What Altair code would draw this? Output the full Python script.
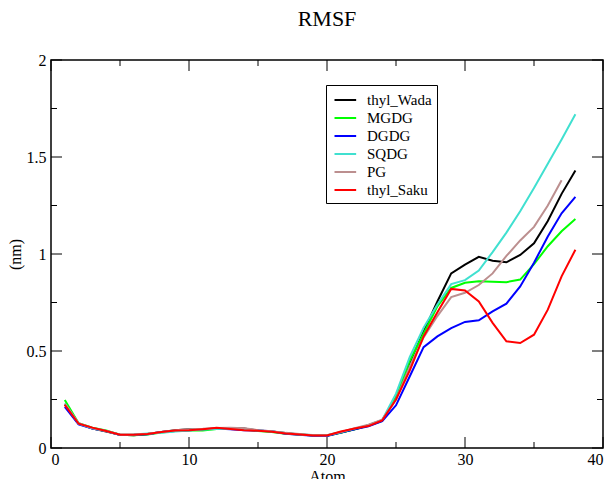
import altair as alt
import pandas as pd

atoms = list(range(1, 39))
series_names = ["thyl_Wada", "MGDG", "DGDG", "SQDG", "PG", "thyl_Saku"]
series_colors = ["#000000", "#00ff00", "#0000ff", "#40e0d0", "#bc8f8f", "#ff0000"]

thyl_wada = [0.225, 0.125, 0.100, 0.085, 0.068, 0.066, 0.072, 0.083, 0.092, 0.097,
             0.095, 0.100, 0.103, 0.100, 0.090, 0.085, 0.077, 0.070, 0.066, 0.065,
             0.080, 0.097, 0.117, 0.143, 0.260, 0.440, 0.600, 0.755, 0.900, 0.945,
             0.985, 0.965, 0.957, 0.995, 1.055, 1.170, 1.310, 1.430]
mgdg = [0.248, 0.128, 0.105, 0.090, 0.068, 0.066, 0.070, 0.080, 0.088, 0.092,
        0.090, 0.098, 0.100, 0.095, 0.088, 0.083, 0.074, 0.069, 0.064, 0.063,
        0.078, 0.096, 0.115, 0.140, 0.260, 0.450, 0.590, 0.730, 0.825, 0.852,
        0.860, 0.857, 0.855, 0.868, 0.948, 1.040, 1.117, 1.180]
dgdg = [0.212, 0.122, 0.100, 0.087, 0.067, 0.068, 0.071, 0.082, 0.088, 0.092,
        0.096, 0.100, 0.097, 0.092, 0.090, 0.086, 0.074, 0.068, 0.063, 0.062,
        0.080, 0.097, 0.112, 0.138, 0.220, 0.370, 0.520, 0.575, 0.618, 0.650,
        0.658, 0.704, 0.744, 0.833, 0.955, 1.090, 1.210, 1.294]
sqdg = [0.230, 0.125, 0.102, 0.088, 0.068, 0.070, 0.075, 0.078, 0.085, 0.090,
        0.095, 0.098, 0.100, 0.097, 0.090, 0.085, 0.076, 0.070, 0.067, 0.066,
        0.082, 0.100, 0.118, 0.145, 0.280, 0.470, 0.620, 0.740, 0.845, 0.865,
        0.915, 1.010, 1.110, 1.220, 1.340, 1.465, 1.590, 1.720]
pg = [0.228, 0.128, 0.103, 0.088, 0.070, 0.069, 0.073, 0.083, 0.092, 0.097,
      0.099, 0.103, 0.105, 0.102, 0.092, 0.087, 0.078, 0.072, 0.066, 0.066,
      0.082, 0.102, 0.120, 0.146, 0.250, 0.420, 0.570, 0.680, 0.778, 0.800,
      0.840, 0.900, 0.990, 1.070, 1.140, 1.250, 1.380]
thyl_saku = [0.222, 0.125, 0.105, 0.088, 0.068, 0.068, 0.072, 0.083, 0.090, 0.091,
             0.097, 0.104, 0.098, 0.091, 0.089, 0.084, 0.075, 0.070, 0.065, 0.064,
             0.085, 0.100, 0.113, 0.142, 0.250, 0.400, 0.575, 0.700, 0.820, 0.812,
             0.755, 0.645, 0.550, 0.541, 0.584, 0.713, 0.885, 1.022]

x_major = [0, 10, 20, 30, 40]
x_minor = [5, 15, 25, 35]
y_major = [0, 0.5, 1, 1.5, 2]
y_minor = [0.25, 0.75, 1.25, 1.75]

rows = []
for name, vals in zip(series_names, [thyl_wada, mgdg, dgdg, sqdg, pg, thyl_saku]):
    for a, v in zip(atoms, vals):
        rows.append({"atom": a, "rmsf": v, "series": name})
df = pd.DataFrame(rows)

W, H = 552, 388
FONT = "Liberation Serif"
xs = alt.Scale(domain=[0, 40], nice=False, zero=False)
ys = alt.Scale(domain=[0, 2], nice=False)

x_axis = alt.Axis(values=x_major, title="Atom", grid=False, domain=False, ticks=False,
                  labelPadding=3, labelFontSize=16, labelFont=FONT, labelColor="black",
                  titleFont=FONT, titleFontSize=16, titleFontWeight="normal", titleColor="black",
                  titleX=W / 2, titleY=33.5, titleBaseline="alphabetic")
y_axis = alt.Axis(values=y_major, title="(nm)", format="~g", grid=False, domain=False, ticks=False,
                  labelPadding=5, labelFontSize=16, labelFont=FONT, labelColor="black",
                  titleFont=FONT, titleFontSize=16, titleFontWeight="normal", titleColor="black",
                  titleX=-36, titleY=H / 2, titleBaseline="middle", titleAngle=-90)

lines = alt.Chart(df).mark_line(strokeWidth=2).encode(
    x=alt.X("atom:Q", scale=xs, axis=x_axis),
    y=alt.Y("rmsf:Q", scale=ys, axis=y_axis),
    color=alt.Color("series:N", sort=series_names,
                    scale=alt.Scale(domain=series_names, range=series_colors),
                    legend=alt.Legend(title=None, orient="none", legendX=275, legendY=25,
                                      symbolType="M-0.75,0L1.75,0", symbolStrokeWidth=2,
                                      symbolSize=300, symbolFillColor="transparent",
                                      labelFont=FONT, labelFontSize=15, labelColor="black",
                                      strokeColor="black", fillColor="white", padding=5,
                                      rowPadding=0, labelOffset=16, cornerRadius=0)),
)

def xticks(vals, length):
    d = pd.DataFrame({"atom": vals})
    bottom = alt.Chart(d).mark_rule(color="black", strokeWidth=1).encode(
        x=alt.X("atom:Q", scale=xs, axis=x_axis), y=alt.value(H), y2=alt.value(H - length))
    top = alt.Chart(d).mark_rule(color="black", strokeWidth=1).encode(
        x=alt.X("atom:Q", scale=xs, axis=x_axis), y=alt.value(0), y2=alt.value(length))
    return [bottom, top]

def yticks(vals, length):
    d = pd.DataFrame({"rmsf": vals})
    left = alt.Chart(d).mark_rule(color="black", strokeWidth=1).encode(
        y=alt.Y("rmsf:Q", scale=ys, axis=y_axis), x=alt.value(0), x2=alt.value(length))
    right = alt.Chart(d).mark_rule(color="black", strokeWidth=1).encode(
        y=alt.Y("rmsf:Q", scale=ys, axis=y_axis), x=alt.value(W), x2=alt.value(W - length))
    return [left, right]

tick_layers = xticks(x_major, 11) + xticks(x_minor, 6) + yticks(y_major, 11) + yticks(y_minor, 6)

chart = alt.layer(lines, *tick_layers).properties(
    width=W, height=H,
    title=alt.TitleParams("RMSF", font=FONT, fontSize=22, fontWeight="normal", color="black",
                          anchor="middle", baseline="alphabetic", offset=4),
    padding={"left": 51, "top": 60, "right": 9, "bottom": 31},
    autosize=alt.AutoSizeParams(type="none"),
).configure(background="white", font=FONT).configure_view(stroke="black", strokeWidth=1.5)

chart.save("out.html", embed_options={"renderer": "svg", "actions": False})
